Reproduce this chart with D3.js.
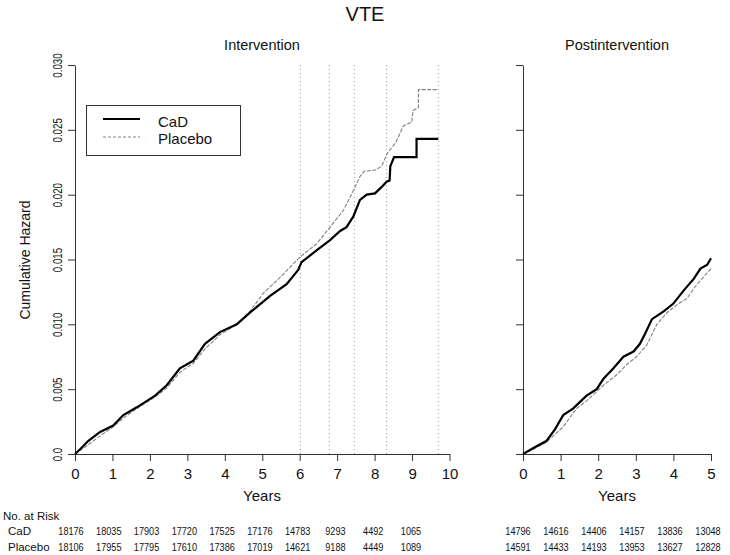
<!DOCTYPE html>
<html>
<head>
<meta charset="utf-8">
<script src="https://cdn.jsdelivr.net/npm/d3@7"></script>
<style>
  html, body { margin: 0; padding: 0; background: #fff; }
  svg { display: block; font-family: "Liberation Sans", Arial, Helvetica, sans-serif; }
</style>
</head>
<body>
<svg id="chart" width="730" height="555"></svg>
<script>
// ---------- data ----------
const title = "VTE";
const panelTitles = ["Intervention", "Postintervention"];
const seriesNames = ["CaD", "Placebo"];
const yTickValues = [0, 0.005, 0.010, 0.015, 0.020, 0.025, 0.030];
const yTickLabels = ["0.0", "0.005", "0.010", "0.015", "0.020", "0.025", "0.030"];
const xTicksLeft = [0, 1, 2, 3, 4, 5, 6, 7, 8, 9, 10];
const xTicksRight = [0, 1, 2, 3, 4, 5];
const dottedYears = [6.02, 6.79, 7.46, 8.32, 9.70];

// Intervention period: [years, cumulative hazard]
const cadIntervention = [
  [0, 0], [0.15, 0.0004], [0.35, 0.0010], [0.67, 0.0017], [1.02, 0.0022],
  [1.29, 0.0030], [1.65, 0.0036], [2.14, 0.0045], [2.45, 0.0053], [2.80, 0.0066],
  [3.16, 0.0072], [3.47, 0.0085], [3.87, 0.0094], [4.32, 0.0100], [4.67, 0.0109],
  [5.21, 0.0122], [5.65, 0.0131], [5.96, 0.0142], [6.05, 0.0148], [6.45, 0.0157],
  [6.81, 0.0165], [7.08, 0.0172], [7.25, 0.0175], [7.43, 0.0183], [7.61, 0.0196],
  [7.79, 0.0200], [8.01, 0.0201], [8.19, 0.0206], [8.32, 0.0210], [8.40, 0.0211],
  [8.42, 0.0222], [8.52, 0.0229], [9.12, 0.0229], [9.12, 0.0243], [9.70, 0.0243]
];
const placeboIntervention = [
  [0, 0], [0.30, 0.0006], [0.67, 0.0014], [1.02, 0.0021], [1.30, 0.0028],
  [1.65, 0.0035], [2.14, 0.0044], [2.45, 0.0051], [2.80, 0.0063], [3.16, 0.0070],
  [3.47, 0.0081], [3.87, 0.0092], [4.32, 0.0100], [4.67, 0.0110], [5.03, 0.0124],
  [5.47, 0.0136], [6.01, 0.0152], [6.45, 0.0162], [6.81, 0.0175], [7.17, 0.0188],
  [7.43, 0.0203], [7.61, 0.0214], [7.72, 0.0218], [8.02, 0.0219], [8.19, 0.0222],
  [8.34, 0.0232], [8.56, 0.0240], [8.77, 0.0253], [8.99, 0.0256], [9.03, 0.0265],
  [9.17, 0.0267], [9.17, 0.0281], [9.70, 0.0281]
];
// Postintervention period
const cadPost = [
  [0, 0], [0.30, 0.0005], [0.62, 0.0010], [0.85, 0.0019], [1.07, 0.0030],
  [1.33, 0.0035], [1.51, 0.0040], [1.69, 0.0045], [1.96, 0.0050], [2.14, 0.0058],
  [2.40, 0.0066], [2.67, 0.0075], [2.94, 0.0079], [3.11, 0.0085], [3.25, 0.0093],
  [3.43, 0.0104], [3.74, 0.0110], [4.00, 0.0116], [4.27, 0.0126], [4.54, 0.0135],
  [4.72, 0.0143], [4.90, 0.0146], [5.00, 0.0151]
];
const placeboPost = [
  [0, 0], [0.30, 0.0004], [0.62, 0.0009], [1.07, 0.0021], [1.42, 0.0035],
  [1.69, 0.0041], [2.14, 0.0053], [2.49, 0.0061], [2.76, 0.0069], [3.02, 0.0075],
  [3.29, 0.0084], [3.56, 0.0100], [3.83, 0.0109], [4.09, 0.0115], [4.36, 0.0120],
  [4.63, 0.0131], [5.00, 0.0143]
];

// Numbers at risk
const riskCaDLeft = ["18176", "18035", "17903", "17720", "17525", "17176", "14783", "9293", "4492", "1065"];
const riskPlaceboLeft = ["18106", "17955", "17795", "17610", "17386", "17019", "14621", "9188", "4449", "1089"];
const riskCaDRight = ["14796", "14616", "14406", "14157", "13836", "13048"];
const riskPlaceboRight = ["14591", "14433", "14193", "13953", "13627", "12828"];

// ---------- drawing ----------
const svg = d3.select("#chart");
const axisColor = "#333";

const y = d3.scaleLinear().domain([0, 0.03]).range([454, 65]);
const xL = d3.scaleLinear().domain([0, 10]).range([75, 449.5]);
const xR = d3.scaleLinear().domain([0, 5]).range([523, 711]);
const riskXL = d3.scaleLinear().domain([0, 9]).range([71, 411]);
const riskXR = d3.scaleLinear().domain([0, 5]).range([518, 708]);

// squeeze a text horizontally (narrow-font look) while keeping it real text
function narrow(sel, factor) {
  sel.each(function() {
    const w = this.getComputedTextLength();
    d3.select(this).attr("textLength", w * factor).attr("lengthAdjust", "spacingAndGlyphs");
  });
}

// title
svg.append("text").attr("x", 365).attr("y", 21).attr("text-anchor", "middle")
  .attr("font-size", 20).attr("fill", "#111").text(title);

// panel titles
svg.append("text").attr("x", 262).attr("y", 50).attr("text-anchor", "middle")
  .attr("font-size", 14.5).attr("fill", "#111").text(panelTitles[0]);
svg.append("text").attr("x", 617).attr("y", 50).attr("text-anchor", "middle")
  .attr("font-size", 14.5).attr("fill", "#111").text(panelTitles[1]);

// dotted vertical lines (left panel)
svg.append("g").selectAll("line").data(dottedYears).join("line")
  .attr("x1", d => xL(d)).attr("x2", d => xL(d))
  .attr("y1", y(0.03)).attr("y2", y(0))
  .attr("stroke", "#999").attr("stroke-width", 1)
  .attr("stroke-dasharray", "1,3");

function styleAxis(g) {
  g.selectAll(".domain").attr("stroke", axisColor);
  g.selectAll(".tick line").attr("stroke", axisColor);
  g.selectAll(".tick text").attr("fill", "#111")
    .attr("font-family", "'Liberation Sans', Arial, sans-serif");
}

// left y axis
const gyL = svg.append("g").attr("transform", "translate(75,0)")
  .call(d3.axisLeft(y).tickValues(yTickValues).tickSize(7).tickSizeOuter(0)
    .tickFormat((d, i) => yTickLabels[i]));
styleAxis(gyL);
gyL.selectAll(".tick text")
  .attr("font-size", 13)
  .attr("text-anchor", "middle")
  .attr("transform", "rotate(-90)")
  .attr("x", 0).attr("y", -13).attr("dy", 0);
narrow(gyL.selectAll(".tick text"), 0.75);

// right y axis (no labels)
const gyR = svg.append("g").attr("transform", "translate(523,0)")
  .call(d3.axisLeft(y).tickValues(yTickValues).tickSize(7).tickSizeOuter(0)
    .tickFormat(() => ""));
styleAxis(gyR);

// x axes
const gxL = svg.append("g").attr("transform", "translate(0,454)")
  .call(d3.axisBottom(xL).tickValues(xTicksLeft).tickSize(7).tickSizeOuter(0).tickPadding(7)
    .tickFormat(d3.format("d")));
styleAxis(gxL);
gxL.selectAll(".tick text").attr("font-size", 15);

const gxR = svg.append("g").attr("transform", "translate(0,454)")
  .call(d3.axisBottom(xR).tickValues(xTicksRight).tickSize(7).tickSizeOuter(0).tickPadding(7)
    .tickFormat(d3.format("d")));
styleAxis(gxR);
gxR.selectAll(".tick text").attr("font-size", 15);

// axis titles
svg.append("text").attr("x", 262).attr("y", 501).attr("text-anchor", "middle")
  .attr("font-size", 15).attr("fill", "#111").text("Years");
svg.append("text").attr("x", 617).attr("y", 501).attr("text-anchor", "middle")
  .attr("font-size", 15).attr("fill", "#111").text("Years");
svg.append("text").attr("transform", "translate(30,260) rotate(-90)")
  .attr("text-anchor", "middle").attr("font-size", 14).attr("fill", "#111")
  .text("Cumulative Hazard");

// curves
const lineL = d3.line().x(d => xL(d[0])).y(d => y(d[1]));
const lineR = d3.line().x(d => xR(d[0])).y(d => y(d[1]));

function drawSeries(data, gen, isCaD) {
  svg.append("path").datum(data).attr("d", gen)
    .attr("fill", "none")
    .attr("stroke", isCaD ? "#000" : "#808080")
    .attr("stroke-width", isCaD ? 2.2 : 1.1)
    .attr("stroke-linejoin", "miter")
    .attr("stroke-dasharray", isCaD ? null : "4,1.5");
}
drawSeries(placeboIntervention, lineL, false);
drawSeries(cadIntervention, lineL, true);
drawSeries(placeboPost, lineR, false);
drawSeries(cadPost, lineR, true);

// legend
const lg = svg.append("g");
lg.append("rect").attr("x", 86.5).attr("y", 105.5).attr("width", 154).attr("height", 50)
  .attr("fill", "#fff").attr("stroke", axisColor).attr("stroke-width", 1);
lg.append("line").attr("x1", 103).attr("x2", 140).attr("y1", 119).attr("y2", 119)
  .attr("stroke", "#000").attr("stroke-width", 2.2);
lg.append("line").attr("x1", 103).attr("x2", 140).attr("y1", 137).attr("y2", 137)
  .attr("stroke", "#808080").attr("stroke-width", 1.1).attr("stroke-dasharray", "3,2");
lg.append("text").attr("x", 158).attr("y", 127).attr("font-size", 15).attr("fill", "#111").text(seriesNames[0]);
lg.append("text").attr("x", 158).attr("y", 144).attr("font-size", 15).attr("fill", "#111").text(seriesNames[1]);

// numbers at risk
svg.append("text").attr("x", 3).attr("y", 520).attr("font-size", 11.5).attr("fill", "#111").text("No. at Risk");
svg.append("text").attr("x", 8).attr("y", 535).attr("font-size", 11.5).attr("fill", "#111").text(seriesNames[0]);
svg.append("text").attr("x", 8).attr("y", 551).attr("font-size", 11.5).attr("fill", "#111").text(seriesNames[1]);

function riskRow(vals, scale, yy) {
  const t = svg.append("g").selectAll("text").data(vals).join("text")
    .attr("x", (d, i) => scale(i)).attr("y", yy)
    .attr("text-anchor", "middle").attr("font-size", 11)
    .attr("fill", "#111")
    .text(d => d);
  narrow(t, 0.83);
}
riskRow(riskCaDLeft, riskXL, 535);
riskRow(riskPlaceboLeft, riskXL, 551);
riskRow(riskCaDRight, riskXR, 535);
riskRow(riskPlaceboRight, riskXR, 551);
</script>
</body>
</html>
